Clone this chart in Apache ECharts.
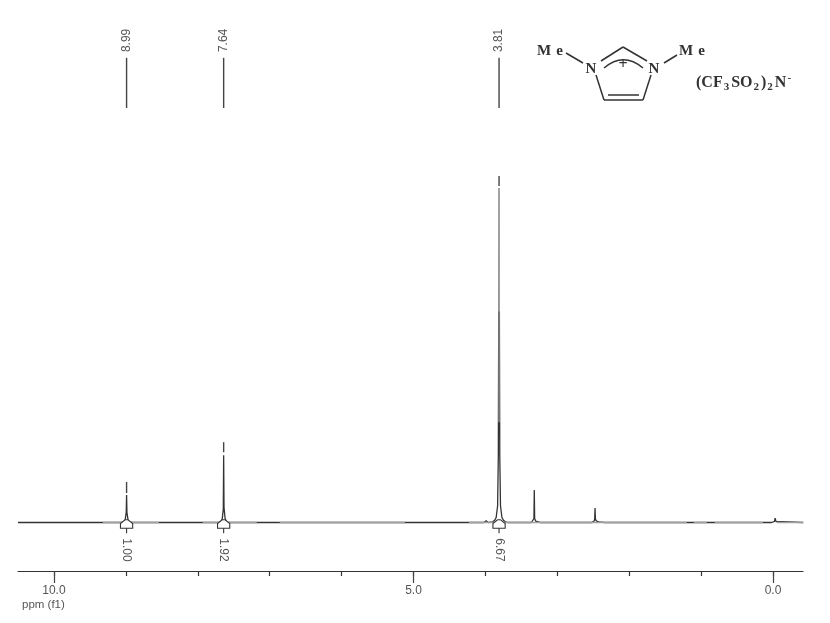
<!DOCTYPE html>
<html>
<head>
<meta charset="utf-8">
<style>html,body{margin:0;padding:0;background:#fff}#c{width:830px;height:623px}</style>
<script src="https://cdn.jsdelivr.net/npm/echarts@6/dist/echarts.min.js"></script>
</head>
<body>
<div id="c"></div>
<script>
// Spectrum trace: chemical shift (ppm) and intensity (tallest peak = 100)
var spectrumPpm = [10.5, 9.06, 9.03, 9.01, 8.995, 8.99, 8.985, 8.97, 8.95, 8.92,
  7.71, 7.68, 7.66, 7.645, 7.64, 7.635, 7.62, 7.60, 7.57,
  4.02, 3.99, 3.96, 3.90, 3.87, 3.85, 3.83, 3.82, 3.81, 3.80, 3.79, 3.77, 3.75, 3.72, 3.69, 3.65, 3.63, 3.61,
  3.36, 3.34, 3.325, 3.32, 3.315, 3.30, 3.28, 3.24,
  2.52, 2.50, 2.485, 2.48, 2.475, 2.47, 2.455, 2.42, 2.34,
  0.02, 0.00, -0.02, -0.03, -0.04, -0.06, -0.42];
var spectrumIntensity = [0, 0, 0.2, 0.8, 3.0, 8.2, 3.0, 0.8, 0.2, 0,
  0, 0.3, 1.0, 4.0, 20.1, 4.5, 1.2, 0.3, 0,
  0, 0.5, 0, 0.2, 0.7, 1.5, 5.0, 20, 100, 20, 5.0, 1.5, 0.7, 0.2, 0, 0, 0.4, 0,
  0, 0.3, 1.2, 9.7, 1.2, 0.4, 0.2, 0,
  0, 0.2, 0.5, 1.2, 4.3, 1.0, 0.4, 0.2, 0,
  0, 0.1, 0.3, 1.3, 0.3, 0, 0];

// Stretches of baseline that look grey (noise) rather than solid
var noisyStart = [9.32, 7.93, 6.86, 4.23, 1.10, 0.81, -0.06];
var noisyEnd   = [8.54, 7.18, 5.12, 1.20, 0.92, 0.14, -0.42];

// Shaded sections of the tall peak
var tallPeakPpm = 3.81;
var tallPeakMidRange = [30, 63];
var tallPeakUpperRange = [63, 100];

// Peak picking
var peakPpm = [8.99, 7.64, 3.81];
var peakLabels = ['8.99', '7.64', '3.81'];
var peakMarkLow = [8.8, 21, 100.6];
var peakMarkHigh = [12.1, 24, 103.6];

// Integrals
var integralPpm = [8.99, 7.64, 3.81];
var integralLabels = ['1.00', '1.92', '6.67'];

// Axis
var majorTicks = [10, 5, 0];
var minorTicks = [10, 9, 8, 7, 6, 5, 4, 3, 2, 1, 0];

var ink = '#333333', textInk = '#555555';

function rangesToSegments(starts, ends, level) {
  var out = [];
  starts.forEach(function (s, i) { out.push([s, level], [ends[i], level], [null, null]); });
  return out;
}

function peakPickItem(params, api) {
  var i = api.value(0), ppm = peakPpm[i];
  var a = api.coord([ppm, 123.9]), b = api.coord([ppm, 138.9]);
  var m0 = api.coord([ppm, peakMarkLow[i]]), m1 = api.coord([ppm, peakMarkHigh[i]]);
  var t = api.coord([ppm, 144.1]);
  return { type: 'group', children: [
    { type: 'line', shape: { x1: a[0], y1: a[1], x2: b[0], y2: b[1] }, style: { stroke: '#444', lineWidth: 1.4 } },
    { type: 'line', shape: { x1: m0[0], y1: m0[1], x2: m1[0], y2: m1[1] }, style: { stroke: '#444', lineWidth: 1.4 } },
    { type: 'text', x: t[0], y: t[1], rotation: Math.PI / 2,
      style: { text: peakLabels[i], fill: textInk, font: '12px "Liberation Sans"', align: 'center', verticalAlign: 'middle' } }
  ] };
}

function integralItem(params, api) {
  var i = api.value(0), ppm = integralPpm[i], hw = 0.085, nw = 0.02;
  var pts = [[ppm - nw, 0.8], [ppm - hw, -0.3], [ppm - hw, -1.7], [ppm + hw, -1.7], [ppm + hw, -0.3], [ppm + nw, 0.8]]
    .map(function (p) { return api.coord(p); });
  var b0 = api.coord([ppm, -1.7]), b1 = api.coord([ppm, -3.2]);
  var t = api.coord([ppm, -8.2]);
  return { type: 'group', children: [
    { type: 'polygon', shape: { points: pts }, style: { fill: '#fff', stroke: ink, lineWidth: 1.1 } },
    { type: 'line', shape: { x1: b0[0], y1: b0[1], x2: b1[0], y2: b1[1] }, style: { stroke: ink, lineWidth: 1.1 } },
    { type: 'text', x: t[0], y: t[1], rotation: -Math.PI / 2,
      style: { text: integralLabels[i], fill: textInk, font: '12px "Liberation Sans"', align: 'center', verticalAlign: 'middle' } }
  ] };
}

function bond(x1, y1, x2, y2) {
  return { type: 'line', shape: { x1: x1, y1: y1, x2: x2, y2: y2 }, style: { stroke: '#333', lineWidth: 1.5 } };
}
function atom(txt, x, y, size) {
  return { type: 'text', x: x, y: y, style: { text: txt, fill: '#333', font: 'bold ' + (size || 15) + 'px "Liberation Serif"', align: 'center', verticalAlign: 'middle' } };
}
function meGroup(x, y) {
  return { type: 'text', x: x, y: y, style: {
    text: '{m|M}{e|e}', align: 'left', verticalAlign: 'middle',
    rich: { m: { font: 'bold 15px "Liberation Serif"', fill: '#333', padding: [0, 5, 0, 0] },
            e: { font: 'bold 15px "Liberation Serif"', fill: '#333' } } } };
}

var chart = echarts.init(document.getElementById('c'), null, { renderer: 'canvas' });
var spectrum = spectrumPpm.map(function (p, i) { return [p, spectrumIntensity[i]]; });

chart.setOption({
  animation: false,
  backgroundColor: '#fff',
  grid: { left: 18, width: 785, top: 20, height: 551, containLabel: false },
  xAxis: [{
    type: 'value', inverse: true, min: -0.417, max: 10.5, position: 'bottom',
    splitLine: { show: false },
    axisLine: { show: true, onZero: false, lineStyle: { color: ink, width: 1.2 } },
    axisTick: { show: true, length: 5, customValues: minorTicks, lineStyle: { color: ink, width: 1.2 } },
    axisLabel: { show: false, customValues: majorTicks }
  }, {
    type: 'value', inverse: true, min: -0.417, max: 10.5, position: 'bottom', offset: 0,
    splitLine: { show: false },
    axisLine: { show: false, onZero: false },
    axisTick: { show: true, length: 12, customValues: majorTicks, lineStyle: { color: '#444', width: 1.2 } },
    axisLabel: { show: true, customValues: majorTicks, margin: 14, color: textInk, fontSize: 12, fontFamily: 'Liberation Sans',
      formatter: function (v) { return v.toFixed(1); } }
  }],
  yAxis: { type: 'value', min: -14.5, max: 150.2, show: false },
  graphic: { elements: [
    { type: 'text', x: 22, y: 605, style: { text: 'ppm (f1)', fill: textInk, font: '11.5px "Liberation Sans"', align: 'left', verticalAlign: 'middle' } },
    meGroup(537, 51), meGroup(679, 51),
    atom('N', 591, 69), atom('N', 654, 69),
    atom('+', 623, 65, 16),
    bond(566, 53, 583, 63), bond(677, 55, 664, 63),
    bond(596, 75, 604, 100), bond(604, 100, 643, 100), bond(643, 100, 651, 75),
    bond(601, 61, 623, 47), bond(623, 47, 647, 61),
    bond(608, 95, 639, 95),
    { type: 'bezierCurve', shape: { x1: 604, y1: 68, cpx1: 617, cpy1: 57, cpx2: 630, cpy2: 57, x2: 643, y2: 68 },
      style: { stroke: '#333', lineWidth: 1.5, fill: 'none' } },
    { type: 'text', x: 695, y: 83, style: {
      text: '{b|(CF}{s|3}{b|SO}{s|2}{b|)}{s|2}{b|N}{u|-}', align: 'left', verticalAlign: 'middle',
      rich: {
        b: { font: 'bold 16px "Liberation Serif"', fill: '#333', lineHeight: 20, verticalAlign: 'middle', padding: [0, 1, 0, 1] },
        s: { font: 'bold 11px "Liberation Serif"', fill: '#333', lineHeight: 20, verticalAlign: 'bottom', padding: [0, 1, 0, 0] },
        u: { font: 'bold 11px "Liberation Serif"', fill: '#333', lineHeight: 20, verticalAlign: 'top' }
      } } }
  ] },
  series: [
    { type: 'line', xAxisIndex: 0, data: spectrum, showSymbol: false, symbol: 'none', smooth: false, z: 2,
      lineStyle: { color: ink, width: 1.3 } },
    { type: 'line', xAxisIndex: 0, data: rangesToSegments(noisyStart, noisyEnd, 0), connectNulls: false, showSymbol: false, symbol: 'none', z: 3,
      lineStyle: { color: '#a0a0a0', width: 1.5 } },
    { type: 'line', xAxisIndex: 0, data: [[tallPeakPpm, tallPeakMidRange[0]], [tallPeakPpm, tallPeakMidRange[1]]], showSymbol: false, symbol: 'none', z: 4,
      lineStyle: { color: '#808080', width: 1.7 } },
    { type: 'line', xAxisIndex: 0, data: [[tallPeakPpm, tallPeakUpperRange[0]], [tallPeakPpm, tallPeakUpperRange[1]]], showSymbol: false, symbol: 'none', z: 4,
      lineStyle: { color: '#aaaaaa', width: 1.7 } },
    { type: 'custom', xAxisIndex: 0, data: peakPpm.map(function (_, i) { return [i]; }), encode: { x: -1, y: -1 }, renderItem: peakPickItem, z: 5, clip: false },
    { type: 'custom', xAxisIndex: 0, data: integralPpm.map(function (_, i) { return [i]; }), encode: { x: -1, y: -1 }, renderItem: integralItem, z: 5, clip: false }
  ]
});
</script>
</body>
</html>
